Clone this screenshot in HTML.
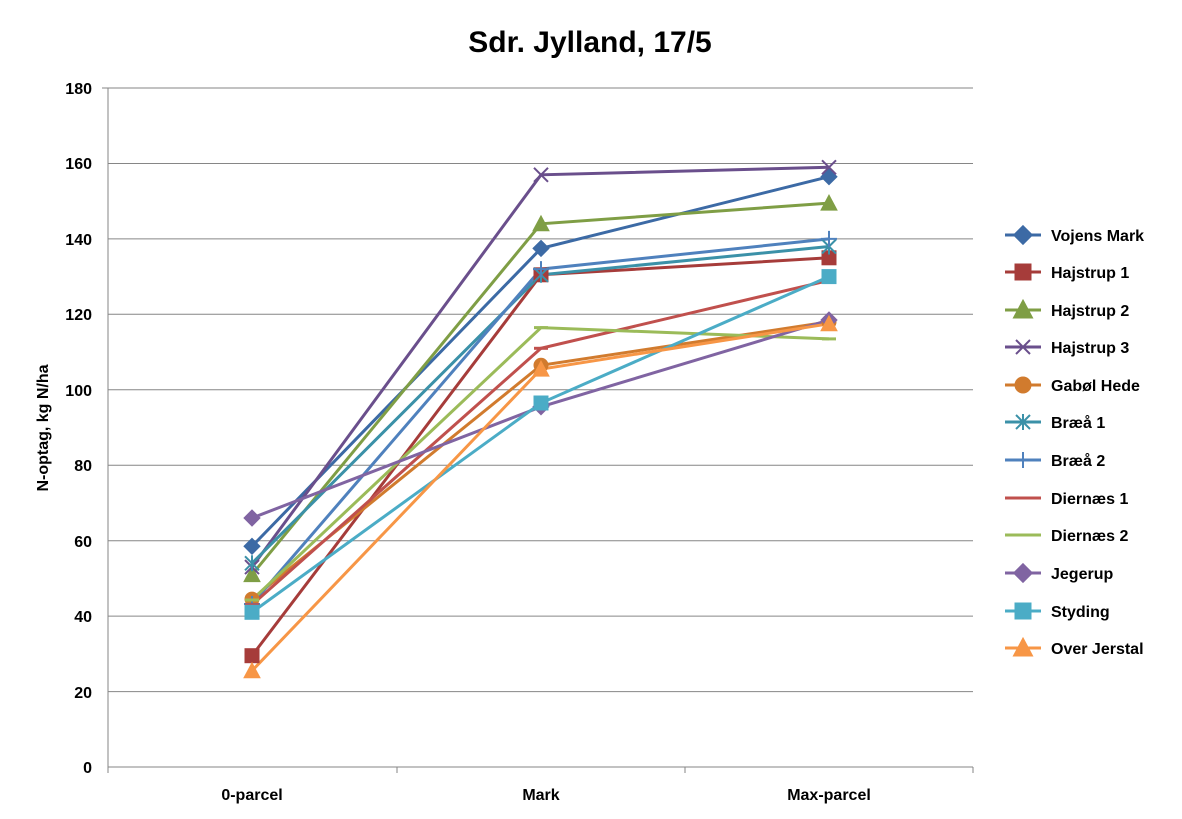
<!DOCTYPE html>
<html><head><meta charset="utf-8"><style>
body{margin:0;background:#fff;}
svg{display:block;font-family:"Liberation Sans",sans-serif;}
</style></head><body>
<svg width="1182" height="819" viewBox="0 0 1182 819">
<defs>
<path id="dia" d="M0,-8 L8,0 L0,8 L-8,0Z"/>
<rect id="sq" x="-7" y="-7" width="14" height="14"/>
<path id="tri" d="M0,-8 L8,7 L-8,7Z"/>
<path id="xx" d="M-7,-7 L7,7 M-7,7 L7,-7" stroke-width="2" fill="none"/>
<circle id="ci" r="7"/>
<path id="ast" d="M-7,-7 L7,7 M-7,7 L7,-7 M0,-8 L0,8" stroke-width="2" fill="none"/>
<path id="pl" d="M-8,0 L8,0 M0,-8 L0,8" stroke-width="2" fill="none"/>
<path id="da" d="M-7,0 L7,0" stroke-width="3" fill="none"/>
</defs>
<text x="590" y="52" text-anchor="middle" font-size="30" font-weight="bold">Sdr. Jylland, 17/5</text>
<g stroke="#868686" stroke-width="1">
<line x1="108" y1="88" x2="973" y2="88"/><line x1="108" y1="163.5" x2="973" y2="163.5"/>
<line x1="108" y1="238.9" x2="973" y2="238.9"/><line x1="108" y1="314.3" x2="973" y2="314.3"/>
<line x1="108" y1="389.8" x2="973" y2="389.8"/><line x1="108" y1="465.2" x2="973" y2="465.2"/>
<line x1="108" y1="540.7" x2="973" y2="540.7"/><line x1="108" y1="616.1" x2="973" y2="616.1"/>
<line x1="108" y1="691.6" x2="973" y2="691.6"/><line x1="108" y1="767" x2="973" y2="767"/>
<line x1="108" y1="88" x2="108" y2="773"/><line x1="397" y1="767" x2="397" y2="773"/>
<line x1="685" y1="767" x2="685" y2="773"/><line x1="973" y1="767" x2="973" y2="773"/>
<line x1="102" y1="88" x2="108" y2="88"/>
</g>
<g font-size="16" font-weight="bold" text-anchor="end">
<text x="92" y="94">180</text><text x="92" y="169">160</text><text x="92" y="245">140</text>
<text x="92" y="320">120</text><text x="92" y="396">100</text><text x="92" y="471">80</text>
<text x="92" y="547">60</text><text x="92" y="622">40</text><text x="92" y="698">20</text><text x="92" y="773">0</text>
</g>
<g font-size="16" font-weight="bold" text-anchor="middle">
<text x="252" y="800">0-parcel</text><text x="541" y="800">Mark</text><text x="829" y="800">Max-parcel</text>
</g>
<text transform="translate(48,428) rotate(-90)" text-anchor="middle" font-size="16" font-weight="bold">N-optag, kg N/ha</text>
<g fill="none" stroke-width="3">
<polyline stroke="#3C6AA5" points="252,546.3 541,248.4 829,176.7"/>
<polyline stroke="#A63C3A" points="252,655.7 541,274.8 829,257.8"/>
<polyline stroke="#7F9E45" points="252,574.6 541,223.8 829,203.1"/>
<polyline stroke="#6A4F8C" points="252,567.1 541,174.8 829,167.3"/>
<polyline stroke="#D17B2E" points="252,599.1 541,365.3 829,321.9"/>
<polyline stroke="#3B91A8" points="252,563.3 541,274.8 829,246.5"/>
<polyline stroke="#4F81BD" points="252,604 541,269.1 829,238.9"/>
<polyline stroke="#C0504D" points="252,604.8 541,348.3 829,280.4"/>
<polyline stroke="#9BBB59" points="252,600 541,327.6 829,338.9"/>
<polyline stroke="#8064A2" points="252,518 541,406.8 829,320"/>
<polyline stroke="#4BACC6" points="252,612.3 541,403 829,276.6"/>
<polyline stroke="#F79646" points="252,670.8 541,369.1 829,323.8"/>
</g>
<g>
<g fill="#3C6AA5" stroke="#3C6AA5"><use href="#dia" x="252" y="546.3"/><use href="#dia" x="541" y="248.4"/><use href="#dia" x="829" y="176.7"/></g>
<g fill="#A63C3A" stroke="#A63C3A"><use href="#sq" x="252" y="655.7"/><use href="#sq" x="541" y="274.8"/><use href="#sq" x="829" y="257.8"/></g>
<g fill="#7F9E45" stroke="#7F9E45"><use href="#tri" x="252" y="574.6"/><use href="#tri" x="541" y="223.8"/><use href="#tri" x="829" y="203.1"/></g>
<g stroke="#6A4F8C"><use href="#xx" x="252" y="567.1"/><use href="#xx" x="541" y="174.8"/><use href="#xx" x="829" y="167.3"/></g>
<g fill="#D17B2E" stroke="#D17B2E"><use href="#ci" x="252" y="599.1"/><use href="#ci" x="541" y="365.3"/><use href="#ci" x="829" y="321.9"/></g>
<g stroke="#3B91A8"><use href="#ast" x="252" y="563.3"/><use href="#ast" x="541" y="274.8"/><use href="#ast" x="829" y="246.5"/></g>
<g stroke="#4F81BD"><use href="#pl" x="252" y="604"/><use href="#pl" x="541" y="269.1"/><use href="#pl" x="829" y="238.9"/></g>
<g stroke="#C0504D"><use href="#da" x="252" y="604.8"/><use href="#da" x="541" y="348.3"/><use href="#da" x="829" y="280.4"/></g>
<g stroke="#9BBB59"><use href="#da" x="252" y="600"/><use href="#da" x="541" y="327.6"/><use href="#da" x="829" y="338.9"/></g>
<g fill="#8064A2" stroke="#8064A2"><use href="#dia" x="252" y="518"/><use href="#dia" x="541" y="406.8"/><use href="#dia" x="829" y="320"/></g>
<g fill="#4BACC6" stroke="#4BACC6"><use href="#sq" x="252" y="612.3"/><use href="#sq" x="541" y="403"/><use href="#sq" x="829" y="276.6"/></g>
<g fill="#F79646" stroke="#F79646"><use href="#tri" x="252" y="670.8"/><use href="#tri" x="541" y="369.1"/><use href="#tri" x="829" y="323.8"/></g>
</g>
<g stroke-width="3" font-size="16" font-weight="bold">
<g stroke="#3C6AA5" fill="#3C6AA5"><line x1="1005" y1="235" x2="1041" y2="235"/><use href="#dia" x="1023" y="235"/></g>
<g stroke="#A63C3A" fill="#A63C3A"><line x1="1005" y1="272" x2="1041" y2="272"/><use href="#sq" x="1023" y="272"/></g>
<g stroke="#7F9E45" fill="#7F9E45"><line x1="1005" y1="310" x2="1041" y2="310"/><use href="#tri" x="1023" y="310"/></g>
<g stroke="#6A4F8C"><line x1="1005" y1="347" x2="1041" y2="347"/><use href="#xx" x="1023" y="347"/></g>
<g stroke="#D17B2E" fill="#D17B2E"><line x1="1005" y1="385" x2="1041" y2="385"/><use href="#ci" x="1023" y="385"/></g>
<g stroke="#3B91A8"><line x1="1005" y1="422" x2="1041" y2="422"/><use href="#ast" x="1023" y="422"/></g>
<g stroke="#4F81BD"><line x1="1005" y1="460" x2="1041" y2="460"/><use href="#pl" x="1023" y="460"/></g>
<g stroke="#C0504D"><line x1="1005" y1="498" x2="1041" y2="498"/></g>
<g stroke="#9BBB59"><line x1="1005" y1="535" x2="1041" y2="535"/></g>
<g stroke="#8064A2" fill="#8064A2"><line x1="1005" y1="573" x2="1041" y2="573"/><use href="#dia" x="1023" y="573"/></g>
<g stroke="#4BACC6" fill="#4BACC6"><line x1="1005" y1="611" x2="1041" y2="611"/><use href="#sq" x="1023" y="611"/></g>
<g stroke="#F79646" fill="#F79646"><line x1="1005" y1="648" x2="1041" y2="648"/><use href="#tri" x="1023" y="648"/></g>
<g fill="#000" stroke="none">
<text x="1051" y="241">Vojens Mark</text><text x="1051" y="278">Hajstrup 1</text>
<text x="1051" y="316">Hajstrup 2</text><text x="1051" y="353">Hajstrup 3</text>
<text x="1051" y="391">Gabøl Hede</text><text x="1051" y="428">Bræå 1</text>
<text x="1051" y="466">Bræå 2</text><text x="1051" y="504">Diernæs 1</text>
<text x="1051" y="541">Diernæs 2</text><text x="1051" y="579">Jegerup</text>
<text x="1051" y="617">Styding</text><text x="1051" y="654">Over Jerstal</text>
</g></g>
</svg>
</body></html>
